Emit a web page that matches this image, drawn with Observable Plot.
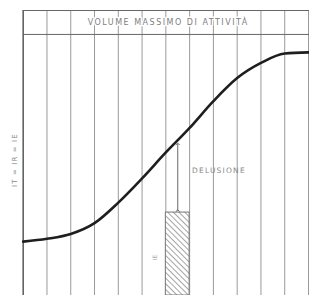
<!DOCTYPE html>
<html>
<head>
<meta charset="utf-8">
<script src="https://cdn.jsdelivr.net/npm/d3@7"></script>
<script src="https://cdn.jsdelivr.net/npm/@observablehq/plot@0.6"></script>
<style>
  html, body { margin: 0; padding: 0; background: #fff; }
</style>
</head>
<body>
<div id="chart"></div>
<script>
// Time steps (grid columns) and curve level (arbitrary 0–100 scale)
const steps = [0, 1, 2, 3, 4, 5, 6, 7, 8, 9, 10, 11, 12];
const levels = [18.9, 19.9, 21.6, 25.4, 32.6, 41.1, 50.2, 58.8, 68.2, 76.3, 81.6, 84.9, 85.3];
// Expectation bar (IE)
const barStart = [6];
const barEnd = [7];
const barTop = [29.1];
// Delusion arrow
const arrowX = [6.5];
const arrowFrom = [29.8];
const arrowTo = [53.2];
// Labels
const titleText = "VOLUME MASSIMO DI ATTIVITÀ";
const yLabel = "IT = IR = IE";
const barLabel = "IE";
const gapLabel = "DELUSIONE";
const bandLevel = 91.6;

const curve = steps.map((s, i) => ({x: s, y: levels[i]}));
const bars = barStart.map((s, i) => ({x1: s, x2: barEnd[i], y: barTop[i]}));
const arrows = arrowX.map((x, i) => ({x, y1: arrowFrom[i], y2: arrowTo[i]}));

const font = "'DejaVu Sans', sans-serif";

const plot = Plot.plot({
  width: 309,
  height: 295,
  marginLeft: 22.7,
  marginRight: 1,
  marginTop: 10,
  marginBottom: 0,
  x: {domain: [0, 12], axis: null},
  y: {domain: [0, 100], axis: null},
  style: {background: "#fff", fontFamily: font},
  marks: [
    Plot.ruleX(steps, {stroke: "#9a9a9a", strokeWidth: 1}),
    Plot.ruleX([0], {stroke: "#555", strokeWidth: 1.3}),
    Plot.ruleY([100, bandLevel], {x1: 0, x2: 12.1, stroke: "#666", strokeWidth: 1}),
    Plot.rectY(bars, {x1: "x1", x2: "x2", y1: 0, y2: "y", fill: "url(#hatch)", stroke: "#777", strokeWidth: 1}),
    Plot.text([titleText], {x: 6.1, y: 95.8, text: d => d, fill: "#808080", fontSize: 8, stroke: "#fff", strokeWidth: 3, ariaLabel: () => "ls-title"}),
    Plot.link(arrows, {x1: "x", x2: "x", y1: "y1", y2: "y2", stroke: "#444", strokeWidth: 0.8, marker: "arrow"}),
    Plot.line(curve, {x: "x", y: "y", curve: "monotone-x", stroke: "#1e1e1e", strokeWidth: 2.6}),
    Plot.text([gapLabel], {x: 7.1, y: 43.9, text: d => d, textAnchor: "start", fill: "#888", fontSize: 7.5, ariaLabel: () => "ls-gap"}),
    Plot.text([yLabel], {x: -0.36, y: 47.5, text: d => d, rotate: -90, fill: "#888", fontSize: 7, ariaLabel: () => "ls-y"}),
    Plot.text([barLabel], {x: 5.55, y: 13.3, text: d => d, rotate: -90, fill: "#aaa", fontSize: 6})
  ]
});

// letter spacing (not a Plot option) applied to the rendered labels
const spacing = {"ls-title": "1.5px", "ls-gap": "1.2px", "ls-y": "1.1px"};
for (const [label, sp] of Object.entries(spacing)) {
  plot.querySelectorAll(`[aria-label="${label}"]`).forEach(el => {
    const targets = el.tagName.toLowerCase() === "text" ? [el] : el.querySelectorAll("text");
    targets.forEach(t => t.style.letterSpacing = sp);
  });
}

// hatch pattern for the bar
const svgNS = "http://www.w3.org/2000/svg";
const defs = document.createElementNS(svgNS, "defs");
const pat = document.createElementNS(svgNS, "pattern");
pat.setAttribute("id", "hatch");
pat.setAttribute("patternUnits", "userSpaceOnUse");
pat.setAttribute("width", "4");
pat.setAttribute("height", "4");
pat.setAttribute("patternTransform", "rotate(-45)");
const bg = document.createElementNS(svgNS, "rect");
bg.setAttribute("width", "4"); bg.setAttribute("height", "4"); bg.setAttribute("fill", "#fff");
const ln = document.createElementNS(svgNS, "line");
ln.setAttribute("x1", "0"); ln.setAttribute("y1", "0"); ln.setAttribute("x2", "0"); ln.setAttribute("y2", "4");
ln.setAttribute("stroke", "#666"); ln.setAttribute("stroke-width", "1.2");
pat.appendChild(bg); pat.appendChild(ln);
defs.appendChild(pat);
plot.insertBefore(defs, plot.firstChild);

document.getElementById("chart").appendChild(plot);
</script>
</body>
</html>
